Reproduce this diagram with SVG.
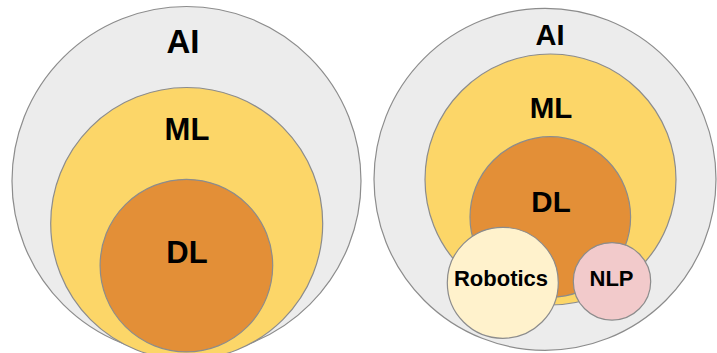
<svg xmlns="http://www.w3.org/2000/svg" width="717" height="353" viewBox="0 0 717 353">
  <style>
    .ring { stroke: #8c8c8c; stroke-width: 1.2; }
    .ai { fill: #ececec; }
    .ml { fill: #fcd668; }
    .dl { fill: #e38f37; }
    .rob { fill: #fff2cc; }
    .nlp { fill: #f2cacb; }
    .lbl { font-family: "Liberation Sans", Arial, sans-serif; font-weight: bold; fill: #000; text-anchor: middle; }
  </style>
  <rect width="717" height="353" fill="#ffffff"/>

  <!-- Left: nested AI / ML / DL -->
  <g id="left-ai">
    <circle class="ring ai" cx="186.5" cy="181" r="174.5"/>
    <text class="lbl" x="183" y="53" font-size="33">AI</text>
  </g>
  <g id="left-ml">
    <circle class="ring ml" cx="186.7" cy="223.5" r="136"/>
    <text class="lbl" x="187" y="139.5" font-size="31">ML</text>
  </g>
  <g id="left-dl">
    <circle class="ring dl" cx="186.4" cy="265.6" r="86.3"/>
    <text class="lbl" x="187" y="263" font-size="31">DL</text>
  </g>

  <!-- Right: AI / ML / DL with Robotics and NLP -->
  <g id="right-ai">
    <circle class="ring ai" cx="545" cy="179.3" r="171"/>
    <text class="lbl" x="550" y="44.5" font-size="29">AI</text>
  </g>
  <g id="right-ml">
    <circle class="ring ml" cx="550.5" cy="179.5" r="125.5"/>
    <text class="lbl" x="551" y="117.5" font-size="29.5">ML</text>
  </g>
  <g id="right-dl">
    <circle class="ring dl" cx="550.3" cy="217" r="80.3"/>
    <text class="lbl" x="551" y="211.5" font-size="29.5">DL</text>
  </g>
  <g id="robotics">
    <circle class="ring rob" cx="502.8" cy="282.8" r="55.5"/>
    <text class="lbl" x="501" y="286" font-size="22">Robotics</text>
  </g>
  <g id="nlp">
    <circle class="ring nlp" cx="612" cy="281.4" r="38.7"/>
    <text class="lbl" x="611.5" y="286" font-size="22">NLP</text>
  </g>

  <g id="connectors"/>
</svg>
